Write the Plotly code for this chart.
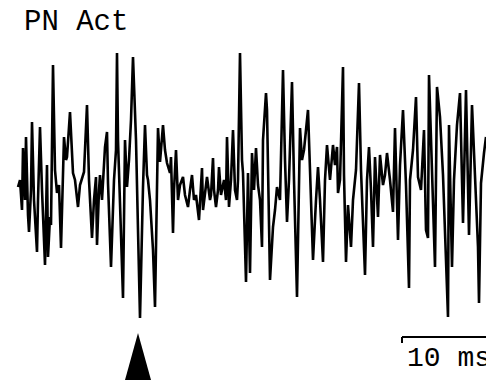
import plotly.graph_objects as go

# Recording: sample index (9 samples per ms) and membrane signal (arbitrary units, baseline 0)
t_samples = [18,20,22,23,25,26,28,29,31,32,34,37,38,40,42,45,47,48,50,51,53,55,57,59,61,63,64,66,67,70,
             72,73,75,78,80,82,84,87,89,92,94,96,97,99,100,102,105,107,108,111,114,116,117,118,121,123,125,127,129,131,
             133,136,138,140,143,145,147,148,150,153,155,158,160,163,165,167,170,171,173,174,176,178,180,183,185,188,190,192,194,196,
             199,200,202,203,205,207,210,211,213,214,216,218,219,221,224,226,227,229,231,233,235,237,238,240,242,243,246,247,248,250,
             252,254,256,258,260,262,263,266,267,270,273,275,277,280,283,285,287,289,292,294,297,300,302,304,308,310,313,316,318,320,
             323,325,327,330,333,335,337,338,340,343,344,346,348,351,353,356,359,361,365,367,369,371,373,375,378,380,383,385,387,390,
             393,395,398,400,403,406,409,410,413,416,418,421,424,426,428,429,432,435,437,440,443,448,449,452,454,457,460,463,466,469,
             472,475,478,479,481,484,486]
signal = [0,7,-23,39,-13,50,-28,-45,-3,65,-13,-65,-13,60,-3,-78,22,-70,-30,-38,122,17,-6,2,-61,4,50,27,30,75,
          22,14,7,-20,2,9,15,82,7,-51,-13,10,-58,-3,12,-13,40,55,4,-80,7,37,134,47,-43,-111,47,0,27,67,
          130,47,-43,-131,0,62,12,7,-13,-63,-120,59,25,62,37,24,14,30,-46,-3,37,-13,2,10,-8,-20,-3,12,-13,-8,
          -33,-13,19,-23,-3,10,-13,-8,29,-3,-20,-3,20,-8,7,-13,50,-20,7,57,-3,-13,7,134,27,14,-95,-23,14,-86,
          34,-3,39,2,-13,-60,47,94,77,-93,-40,-23,0,-13,117,27,-35,7,105,7,-110,59,27,37,77,17,-73,-13,20,-13,
          -75,7,42,7,42,22,40,-6,7,120,12,-75,-18,-60,-13,17,104,17,-88,7,40,-3,-60,30,-30,32,2,12,34,7,
          -25,59,-53,22,77,2,-101,7,37,90,10,-3,57,-43,-51,112,7,-80,100,70,12,-130,62,-80,7,62,94,-36,97,-48,
          82,2,-60,-116,4,34,50]

title_text = "PN Act"
stim_t = 138            # stimulus time (samples)
samples_per_ms = 9
bar_ms = 10
bar_start = 402
bar_label = "10 ms"

fig = go.Figure()
fig.add_trace(go.Scatter(x=t_samples, y=signal, mode="lines",
                         line=dict(color="black", width=2.6), hoverinfo="skip"))

# stimulus arrowhead
tri_top, tri_bot, tri_half = -146, -193, 13
fig.add_shape(type="path", xref="x", yref="y",
              path=f"M {stim_t - tri_half} {tri_bot} L {stim_t} {tri_top} L {stim_t + tri_half} {tri_bot} Z",
              fillcolor="black", line=dict(color="black", width=0))

# scale bar
bar_y = -150
bar_end = bar_start + bar_ms * samples_per_ms
fig.add_shape(type="line", xref="x", yref="y", x0=bar_start, x1=bar_end, y0=bar_y, y1=bar_y,
              line=dict(color="black", width=2))
fig.add_shape(type="line", xref="x", yref="y", x0=bar_start, x1=bar_start, y0=bar_y, y1=bar_y - 6,
              line=dict(color="black", width=2))
fig.add_annotation(x=bar_start + 3, y=-171, xref="x", yref="y", text=bar_label, showarrow=False,
                   xanchor="left", yanchor="middle",
                   font=dict(family="Liberation Mono", size=28, color="black"))

fig.add_annotation(x=22 / 486, y=1 - 23 / 380, xref="paper", yref="paper", text=title_text,
                   showarrow=False, xanchor="left", yanchor="middle",
                   font=dict(family="Liberation Mono", size=29, color="black"))

fig.update_layout(width=486, height=380, margin=dict(l=0, r=0, t=0, b=0),
                  paper_bgcolor="white", plot_bgcolor="white", showlegend=False)
fig.update_xaxes(range=[0, 486], visible=False, fixedrange=True)
fig.update_yaxes(range=[-193, 187], visible=False, fixedrange=True)

fig.write_html("out.html", config={"displayModeBar": False},
               post_script="document.body.style.margin='0';document.body.style.overflow='hidden';")
